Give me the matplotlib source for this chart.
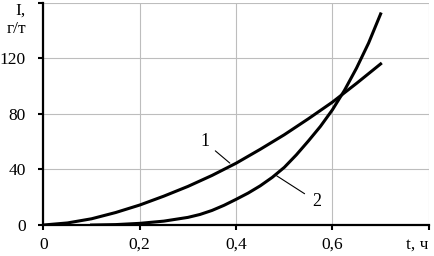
import matplotlib
matplotlib.use('Agg')
import matplotlib.pyplot as plt

# values
t1 = [0, 0.05, 0.1, 0.15, 0.2, 0.25, 0.3, 0.35, 0.4, 0.45, 0.5, 0.55, 0.6, 0.65, 0.7]
I1 = [0, 1.5, 4.5, 9, 14.4, 20.8, 27.8, 35.7, 44.5, 54.5, 65, 76.5, 88.5, 102, 116]

t2 = [0.1, 0.15, 0.2, 0.25, 0.3, 0.325, 0.35, 0.375, 0.4, 0.425, 0.45, 0.475,
      0.5, 0.525, 0.55, 0.575, 0.6, 0.625, 0.65, 0.675, 0.7]
I2 = [0, 0.3, 1.2, 2.8, 5.5, 7.6, 10.5, 14.2, 18.5, 23, 28.2, 34.3,
      41.5, 50.5, 60.5, 71, 83, 97, 113, 131, 152]

x_ticks = [0, 0.2, 0.4, 0.6, 0.8]
x_labels = ['0', '0,2', '0,4', '0,6', 't, ч']
y_ticks = [0, 40, 80, 120, 160]
y_labels = ['0', '40', '80', '120', 'I,\nг/т']

plt.rcParams['font.family'] = ['Liberation Serif', 'DejaVu Serif']

fig = plt.figure(figsize=(4.34, 2.56), dpi=100)
ax = fig.add_axes([0.1, 0.121, 0.888, 0.868])

ax.plot(t1, I1, color='black', lw=2.2, solid_joinstyle='round')
ax.plot(t2, I2, color='black', lw=2.2, solid_joinstyle='round')

# curve labels with leader lines
ax.annotate('1', xy=(0.387, 44.6), xytext=(0.335, 59.8), fontsize=13,
            ha='center', va='center',
            arrowprops=dict(arrowstyle='-', color='black', lw=0.8, shrinkA=3, shrinkB=0))
ax.annotate('2', xy=(0.484, 35.5), xytext=(0.567, 17), fontsize=13,
            ha='center', va='center',
            arrowprops=dict(arrowstyle='-', color='black', lw=0.8, shrinkA=4, shrinkB=0))

ax.set_xlim(0, 0.8)
ax.set_ylim(0, 160)
ax.set_xticks(x_ticks)
ax.set_xticklabels(x_labels)
ax.set_yticks(y_ticks)
ax.set_yticklabels(y_labels)
ax.get_xticklabels()[-1].set_horizontalalignment('right')
ax.get_yticklabels()[-1].set_verticalalignment('top')

ax.grid(True, color='#bdbdbd', lw=0.8)
ax.set_axisbelow(True)
for s in ['top', 'right']:
    ax.spines[s].set_visible(False)
for s in ['left', 'bottom']:
    ax.spines[s].set_linewidth(1.6)
ax.tick_params(axis='both', length=3.5, width=1.5, labelsize=12.5)
ax.tick_params(axis='y', pad=9)
ax.tick_params(axis='x', pad=5)

fig.savefig('out.png', dpi=100)
